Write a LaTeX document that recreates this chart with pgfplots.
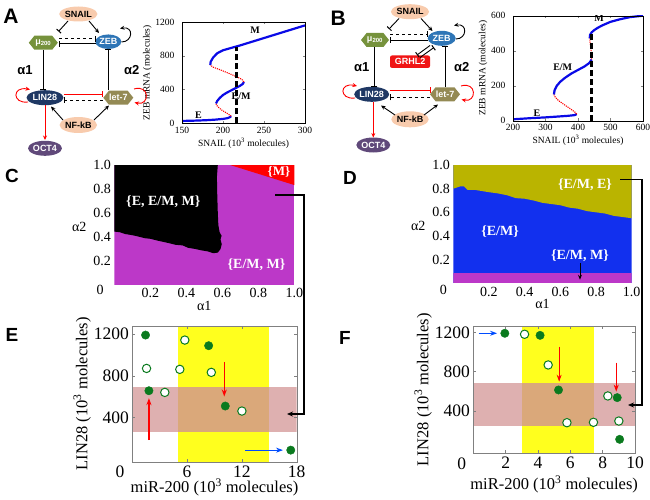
\documentclass[border=0pt]{standalone}
\usepackage{fontspec}
\setmainfont{Liberation Serif}
\newfontfamily\arial{Liberation Sans}
\usepackage{pgfplots}
\pgfplotsset{compat=1.18}
\usetikzlibrary{arrows.meta,shapes.geometric}

\definecolor{peach}{RGB}{248,203,173}
\definecolor{mugreen}{RGB}{118,146,60}
\definecolor{zebblue}{RGB}{46,117,182}
\definecolor{linnavy}{RGB}{31,56,100}
\definecolor{letolive}{RGB}{148,138,84}
\definecolor{octpurple}{RGB}{96,73,122}
\definecolor{grhl}{RGB}{240,20,20}
\definecolor{cpurple}{RGB}{188,56,200}
\definecolor{dolive}{RGB}{186,180,0}
\definecolor{dblue}{RGB}{18,48,238}
\definecolor{ptgreen}{RGB}{10,122,30}
\definecolor{bandyellow}{RGB}{255,255,30}
\definecolor{bandpink}{RGB}{222,176,176}
\definecolor{bandtan}{RGB}{218,168,122}
\definecolor{curveblue}{RGB}{10,10,230}

\newcommand{\dfont}{\arial\bfseries\fontsize{9}{10}\selectfont}
\newcommand{\hexnode}[6]{%
  \fill[#5] ({#1-#3/2},{#2}) -- ({#1-#3/2+#4*0.4},{#2-#4/2}) -- ({#1+#3/2-#4*0.4},{#2-#4/2}) -- ({#1+#3/2},{#2}) -- ({#1+#3/2-#4*0.4},{#2+#4/2}) -- ({#1-#3/2+#4*0.4},{#2+#4/2}) -- cycle;
  \node[text=white,font=\dfont] at (#1,#2) {#6};}
\tikzset{
  inh/.style={line width=0.9pt,-{Bar[width=6pt,line width=1pt]}},
  act/.style={line width=0.9pt,-{Stealth[length=4.5pt,width=4pt]}},
  ell/.style={ellipse,inner sep=0pt,font=\dfont},
}

\pgfplotsset{
  myaxis/.style={scale only axis, anchor=south west, tick align=inside,
    /pgf/number format/assume math mode=true, /pgf/number format/1000 sep={},
    clip=true, axis on top},
}

\begin{document}
\begin{tikzpicture}
\useasboundingbox (0pt,0pt) rectangle (650pt,499pt);

% ---------------- Panel A bifurcation ----------------
\begin{axis}[myaxis, at={(182pt,375.7pt)}, width=123pt, height=101.3pt,
  xmin=150,xmax=300,ymin=0,ymax=1200,
  xtick={150,200,250,300}, ytick={0,400,800,1200},
  major tick length=2.5pt,
  ticklabel style={font=\fontsize{9.5}{10}\selectfont},
  yticklabel style={xshift=-4pt},
  label style={font=\fontsize{9.5}{10}\selectfont},
  xlabel={SNAIL (10\textsuperscript{3} molecules)},
  ylabel={ZEB mRNA (molecules)},
  xlabel style={yshift=2pt}, ylabel style={yshift=-3pt}]
\addplot[curveblue, line width=2.2pt] coordinates {(150,28)(160,30)(170,33)(180,37)(190,43)(200,52)(205,60)(208,70)(210,85)};
\addplot[red, line width=1.1pt, densely dotted] coordinates {(210,85)(207,105)(203,130)(198,160)(194.5,190)(192,215)(191.5,235)};
\addplot[curveblue, line width=2.2pt] coordinates {(191.5,235)(193,265)(196,300)(200,335)(205,365)(210,390)(215,415)(220,440)(224,465)(225.5,490)};
\addplot[red, line width=1.1pt, densely dotted] coordinates {(225.5,490)(223,520)(216,555)(205,600)(195,640)(188,665)(184.5,690)};
\addplot[curveblue, line width=2.2pt] coordinates {(184.5,690)(185,730)(188,780)(193,830)(200,865)(210,893)(220,920)(235,965)(250,1010)(265,1055)(280,1100)(290,1130)(300,1160)};
\addplot[black, line width=3pt, dash pattern=on 6pt off 3pt] coordinates {(216,0)(216,905)};
\node[font=\bfseries\fontsize{10}{10}\selectfont] at (axis cs:239,1104) {M};
\node[font=\bfseries\fontsize{10}{10}\selectfont] at (axis cs:222,318) {E/M};
\node[font=\bfseries\fontsize{10}{10}\selectfont] at (axis cs:170,91) {E};
\end{axis}

% ---------------- Panel B bifurcation ----------------
\begin{axis}[myaxis, at={(513pt,378.3pt)}, width=130pt, height=105pt,
  xmin=200,xmax=600,ymin=0,ymax=600,
  xtick={200,300,400,500,600}, ytick={0,200,400,600},
  major tick length=2.5pt,
  ticklabel style={font=\fontsize{9.5}{10}\selectfont},
  yticklabel style={xshift=-4pt},
  label style={font=\fontsize{9.5}{10}\selectfont},
  xlabel={SNAIL (10\textsuperscript{3} molecules)},
  ylabel={ZEB mRNA (molecules)},
  xlabel style={yshift=2pt}, ylabel style={yshift=-3pt}]
\addplot[curveblue, line width=2.2pt] coordinates {(200,8)(250,14)(300,19)(340,24)(370,28)(390,32)(396,38)};
\addplot[red, line width=1.1pt, densely dotted] coordinates {(396,38)(390,50)(375,70)(355,95)(340,115)(330,135)(326,150)};
\addplot[curveblue, line width=2.2pt] coordinates {(326,150)(328,175)(335,200)(345,222)(360,245)(380,270)(400,290)(420,310)(435,330)(442,350)};
\addplot[red, line width=1.1pt, densely dotted] coordinates {(442,350)(441,390)(439,420)(437,450)(436,470)};
\addplot[curveblue, line width=2.2pt] coordinates {(436,470)(437,490)(442,505)(450,518)(460,530)(475,545)(500,565)(530,580)(560,592)(600,600)};
\addplot[black, line width=3pt, dash pattern=on 6pt off 3pt] coordinates {(442,0)(442,505)};
\node[font=\bfseries\fontsize{10}{10}\selectfont] at (axis cs:465,584) {M};
\node[font=\bfseries\fontsize{10}{10}\selectfont] at (axis cs:353,308) {E/M};
\node[font=\bfseries\fontsize{10}{10}\selectfont] at (axis cs:274,42) {E};
\end{axis}

% ---------------- Panel C phase diagram ----------------
\begin{axis}[myaxis, at={(114.3pt,214pt)}, width=180pt, height=120pt,
  xmin=0,xmax=1,ymin=0,ymax=1, axis line style={draw=none}, major tick length=0pt,
  xtick={0.2,0.4,0.6,0.8,1}, xticklabels={0.2,0.4,0.6,0.8,1.0},
  ytick={0.2,0.4,0.6,0.8,1}, yticklabels={0.2,0.4,0.6,0.8,1.0},
  ticklabel style={font=\fontsize{14}{15}\selectfont},
  label style={font=\fontsize{14}{15}\selectfont},
  xlabel={α1}, ylabel={α2}, xlabel style={yshift=4pt},
  ylabel style={rotate=-90, yshift=-2pt}]
\addplot[fill=cpurple, draw=none] coordinates {(0,0)(1,0)(1,1)(0,1)} -- cycle;
\addplot[fill=black, draw=none] coordinates {(0,0.445)(0.03,0.44)(0.06,0.425)(0.1,0.415)(0.13,0.405)(0.17,0.39)(0.2,0.385)(0.24,0.37)(0.27,0.36)(0.3,0.35)(0.34,0.335)(0.38,0.33)(0.41,0.31)(0.45,0.3)(0.48,0.29)(0.52,0.28)(0.55,0.265)(0.575,0.27)(0.59,0.3)(0.597,0.34)(0.59,0.38)(0.596,0.41)(0.585,0.44)(0.578,0.5)(0.575,0.6)(0.572,0.75)(0.57,0.9)(0.575,1)(0,1)} -- cycle;
\addplot[fill=red, draw=none] coordinates {(0.643,1)(1,1)(1,0.833)} -- cycle;
\node[text=white, font=\bfseries\fontsize{14}{15}\selectfont] at (axis cs:0.272,0.694) {\{E, E/M, M\}};
\node[text=white, font=\bfseries\fontsize{13}{14}\selectfont] at (axis cs:0.915,0.944) {\{M\}};
\node[text=white, font=\bfseries\fontsize{14}{15}\selectfont] at (axis cs:0.79,0.167) {\{E/M, M\}};
\end{axis}
\node[font=\fontsize{14}{15}\selectfont] at (100pt,209pt) {0};

% ---------------- Panel D phase diagram ----------------
\begin{axis}[myaxis, at={(453.3pt,215.7pt)}, width=178.4pt, height=118.3pt,
  xmin=0,xmax=1,ymin=0,ymax=1, axis line style={draw=none}, major tick length=0pt,
  xtick={0.2,0.4,0.6,0.8,1}, xticklabels={0.2,0.4,0.6,0.8,1.0},
  ytick={0.2,0.4,0.6,0.8,1}, yticklabels={0.2,0.4,0.6,0.8,1.0},
  ticklabel style={font=\fontsize{14}{15}\selectfont},
  label style={font=\fontsize{14}{15}\selectfont},
  xlabel={α1}, ylabel={α2}, xlabel style={yshift=4pt},
  ylabel style={rotate=-90, yshift=-2pt}]
\addplot[fill=dblue, draw=none] coordinates {(0,0)(1,0)(1,1)(0,1)} -- cycle;
\addplot[fill=dolive, draw=none] coordinates {(0,0.80)(0.02,0.81)(0.04,0.82)(0.06,0.82)(0.08,0.79)(0.12,0.79)(0.16,0.78)(0.2,0.77)(0.25,0.76)(0.3,0.745)(0.35,0.72)(0.4,0.715)(0.45,0.70)(0.5,0.68)(0.55,0.67)(0.6,0.66)(0.65,0.64)(0.7,0.63)(0.75,0.61)(0.8,0.6)(0.85,0.59)(0.9,0.57)(0.95,0.56)(1,0.55)(1,1)(0,1)} -- cycle;
\addplot[fill=cpurple, draw=none] coordinates {(0,0)(1,0)(1,0.09)(0,0.09)} -- cycle;
\node[text=white, font=\bfseries\fontsize{14}{15}\selectfont] at (axis cs:0.738,0.83) {\{E/M, E\}};
\node[text=white, font=\bfseries\fontsize{14}{15}\selectfont] at (axis cs:0.262,0.437) {\{E/M\}};
\node[text=white, font=\bfseries\fontsize{14}{15}\selectfont] at (axis cs:0.71,0.234) {\{E/M, M\}};
\draw[black, line width=0.9pt, -{Stealth[length=5pt,width=4pt]}] (axis cs:0.71,0.17) -- (axis cs:0.71,0.03);
\end{axis}
\node[font=\fontsize{14}{15}\selectfont] at (443.3pt,209pt) {0};

% ---------------- Panel E scatter ----------------
\begin{axis}[myaxis, at={(132.3pt,37.3pt)}, width=164.4pt, height=135.7pt,
  xmin=0,xmax=18,ymin=-25,ymax=1277,
  xtick={6,12,18}, ytick={400,800,1200},
  axis line style={gray}, every tick/.style={gray}, major tick length=3pt,
  ticklabel style={font=\fontsize{17.5}{18}\selectfont},
  xticklabel style={yshift=-1pt},
  label style={font=\fontsize{16.5}{18}\selectfont},
  xlabel={miR-200 (10\textsuperscript{3} molecules)},
  ylabel={LIN28 (10\textsuperscript{3} molecules)},
  xlabel style={yshift=6pt}, ylabel style={yshift=-4pt}]
\addplot[fill=bandyellow, draw=none] coordinates {(5,-25)(15,-25)(15,1277)(5,1277)} -- cycle;
\addplot[fill=bandpink, draw=none] coordinates {(0,256)(18,256)(18,694)(0,694)} -- cycle;
\addplot[fill=bandtan, draw=none] coordinates {(5,256)(15,256)(15,694)(5,694)} -- cycle;
\addplot[only marks, mark=*, mark size=4.2pt, ptgreen, mark options={fill=ptgreen, draw=ptgreen}] coordinates {(1.45,1190)(8.36,1088)(1.82,656)(10.18,509)(17.35,86)};
\addplot[only marks, mark=*, mark size=4.2pt, mark options={fill=white, draw=ptgreen, line width=1pt}] coordinates {(5.75,1142)(1.56,870)(5.2,861)(8.65,832)(3.56,640)(12.0,461)};
\draw[red, line width=1.3pt, -{Stealth[length=7pt,width=5pt]}] (axis cs:1.82,182) -- (axis cs:1.82,585);
\draw[red, line width=1.3pt, -{Stealth[length=7pt,width=5pt]}] (axis cs:10.07,934) -- (axis cs:10.07,600);
\draw[blue!70!cyan, line width=1.1pt, -{Stealth[length=7pt,width=5pt]}] (axis cs:12.36,86) -- (axis cs:16.5,86);
\end{axis}
\node[font=\fontsize{17.5}{18}\selectfont] at (120pt,27.3pt) {0};

% ---------------- Panel F scatter ----------------
\begin{axis}[myaxis, at={(473.3pt,45.7pt)}, width=161.7pt, height=127.3pt,
  xmin=0,xmax=10,ymin=-30,ymax=1264,
  xtick={2,4,6,8,10}, ytick={400,800,1200},
  axis line style={gray}, every tick/.style={gray}, major tick length=3pt,
  ticklabel style={font=\fontsize{17.5}{18}\selectfont},
  label style={font=\fontsize{16.5}{18}\selectfont},
  xlabel={miR-200 (10\textsuperscript{3} molecules)},
  ylabel={LIN28 (10\textsuperscript{3} molecules)},
  xlabel style={yshift=0pt}, ylabel style={yshift=-4pt}]
\addplot[fill=bandyellow, draw=none] coordinates {(3.03,-30)(7.45,-30)(7.45,1264)(3.03,1264)} -- cycle;
\addplot[fill=bandpink, draw=none] coordinates {(0,245)(10,245)(10,681)(0,681)} -- cycle;
\addplot[fill=bandtan, draw=none] coordinates {(3.03,245)(7.45,245)(7.45,681)(3.03,681)} -- cycle;
\addplot[only marks, mark=*, mark size=4.2pt, ptgreen, mark options={fill=ptgreen, draw=ptgreen}] coordinates {(1.95,1190)(4.13,1169)(5.27,614)(8.9,536)(9.05,112)};
\addplot[only marks, mark=*, mark size=4.2pt, mark options={fill=white, draw=ptgreen, line width=1pt}] coordinates {(3.17,1180)(4.63,868)(8.32,553)(5.79,281)(7.43,285)(9.0,298)};
\draw[red, line width=1.3pt, -{Stealth[length=7pt,width=5pt]}] (axis cs:5.31,1054) -- (axis cs:5.31,698);
\draw[red, line width=1.3pt, -{Stealth[length=7pt,width=5pt]}] (axis cs:8.84,892) -- (axis cs:8.84,597);
\draw[blue!70!cyan, line width=1.1pt, -{Stealth[length=7pt,width=5pt]}] (axis cs:0.33,1190) -- (axis cs:1.47,1190);
\end{axis}
\node[font=\fontsize{17.5}{18}\selectfont] at (461.7pt,35.7pt) {0};

% ---------------- diagrams and annotations (y downward) ----------------
\begin{scope}[x=1pt,y=-1pt,shift={(0pt,499pt)}]
% panel letters
\node[font=\arial\bfseries\fontsize{21}{21}\selectfont] at (11,16) {A};
\node[font=\arial\bfseries\fontsize{21}{21}\selectfont] at (338.3,18.3) {B};
\node[font=\arial\bfseries\fontsize{19}{19}\selectfont] at (12,176) {C};
\node[font=\arial\bfseries\fontsize{19}{19}\selectfont] at (350,178) {D};
\node[font=\arial\bfseries\fontsize{19}{19}\selectfont] at (12,335) {E};
\node[font=\arial\bfseries\fontsize{19}{19}\selectfont] at (345,338) {F};

% connectors
\draw[line width=1.2pt, -{Stealth[length=6pt,width=5pt]}] (275,195) -- (304,195) -- (304,414) -- (287,414);
\draw[line width=1.2pt, -{Stealth[length=6pt,width=5pt]}] (620,179.3) -- (642,179.3) -- (642,405) -- (628,405);

% ===== network A =====
\node[ell, fill=peach, minimum width=37pt, minimum height=15pt] at (78.3,14) {SNAIL};
\hexnode{43.3}{42.7}{29}{14}{mugreen}{μ\textsubscript{200}}
\node[ell, fill=zebblue, text=white, minimum width=26pt, minimum height=14.5pt] at (108.3,41.7) {ZEB};
\node[ell, fill=linnavy, text=white, minimum width=37pt, minimum height=15pt] at (45,97.7) {LIN28};
\hexnode{118.3}{97.7}{30}{14}{letolive}{let-7}
\node[ell, fill=peach, minimum width=37pt, minimum height=16pt] at (78.3,125) {NF-kB};
\node[ell, fill=octpurple, text=white, minimum width=32pt, minimum height=15pt] at (45,148.3) {OCT4};
\node[font=\arial\bfseries\fontsize{13}{13}\selectfont] at (25,70) {α1};
\node[font=\arial\bfseries\fontsize{13}{13}\selectfont] at (131.7,70) {α2};
\draw[inh] (68,21) -- (58.5,31.5);
\draw[act] (89,21) -- (99,33);
\draw[inh, dashed] (59,38.8) -- (95.5,38.8);
\draw[inh] (95.5,43.8) -- (58.5,43.8);
\draw[inh] (43.3,50) -- (43.3,89.8);
\draw[inh] (108.3,90.5) -- (108.3,49.3);
\draw[inh, red] (64,94.3) -- (103,94.3);
\draw[inh, dashed] (102.5,100) -- (63.8,100);
\draw[act] (63,120) -- (51,106.5);
\draw[act] (94,120) -- (109,105.5);
\draw[act, red] (45,105.5) -- (45,140);
\draw[act] (121.5,42) .. controls (133,42) and (134,26) .. (120,28.5);
\draw[act, red] (28,102) .. controls (12,104) and (12,86) .. (30,89.5);
\draw[act, red] (134,89) .. controls (150,84) and (150,106) .. (134.5,102.5);

% ===== network B =====
\node[ell, fill=peach, minimum width=37pt, minimum height=15pt] at (410,11.7) {SNAIL};
\hexnode{375}{40}{28}{14}{mugreen}{μ\textsubscript{200}}
\node[ell, fill=zebblue, text=white, minimum width=28pt, minimum height=15pt] at (441.7,38.3) {ZEB};
\node[draw=none, fill=grhl, text=white, rounded corners=2pt, minimum width=40pt, minimum height=12.5pt, inner sep=0pt, font=\dfont] at (410,61.7) {GRHL2};
\node[ell, fill=linnavy, text=white, minimum width=35pt, minimum height=15pt] at (371.7,94.3) {LIN28};
\hexnode{445}{94.3}{30}{14}{letolive}{let-7}
\node[ell, fill=peach, minimum width=37pt, minimum height=16pt] at (410,119.3) {NF-kB};
\node[ell, fill=octpurple, text=white, minimum width=32pt, minimum height=15pt] at (373.3,145) {OCT4};
\node[font=\arial\bfseries\fontsize{13}{13}\selectfont] at (361.7,66.7) {α1};
\node[font=\arial\bfseries\fontsize{13}{13}\selectfont] at (461.7,66.7) {α2};
\draw[inh] (399,18.5) -- (389,29);
\draw[act] (421,18.5) -- (432.5,31);
\draw[inh, dashed] (390,34.3) -- (428,34.3);
\draw[inh] (428,40) -- (389.5,40);
\draw[inh] (430,45.5) -- (417,55);
\draw[inh] (420,57.5) -- (434,47.5);
\draw[inh] (374.3,47) -- (374.3,86.8);
\draw[inh] (445,87) -- (445,45.8);
\draw[inh, red] (389.5,90.5) -- (430.5,90.5);
\draw[inh, dashed] (430,97.5) -- (389.5,97.5);
\draw[act] (395,115) -- (381,105.5);
\draw[act] (424,115) -- (438,104.5);
\draw[act, red] (373.3,102) -- (373.3,137.5);
\draw[act] (456,39) .. controls (467,39) and (468,23) .. (454,25.5);
\draw[act, red] (355,98) .. controls (339,100) and (339,82) .. (357,86);
\draw[act, red] (461,86) .. controls (477,81) and (477,103) .. (461.5,99.5);
\end{scope}
\end{tikzpicture}
\end{document}
